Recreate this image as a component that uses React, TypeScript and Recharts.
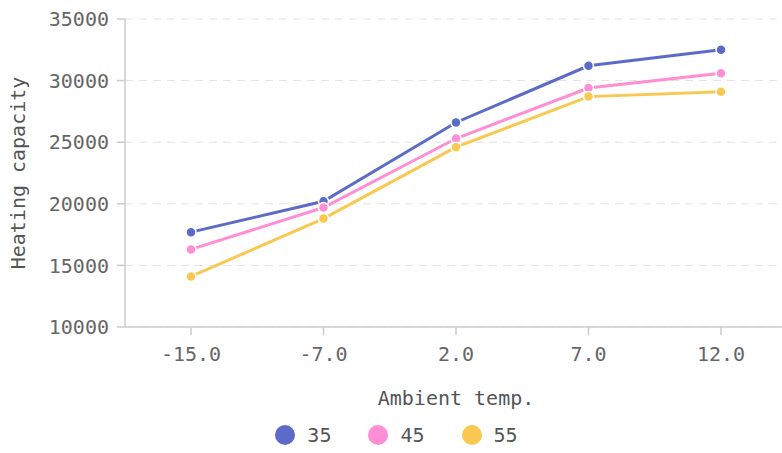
import { LineChart, Line, XAxis, YAxis, CartesianGrid, Legend } from "recharts";

const temps = ["-15.0", "-7.0", "2.0", "7.0", "12.0"];
const cap35 = [17700, 20200, 26600, 31200, 32500];
const cap45 = [16300, 19700, 25300, 29400, 30600];
const cap55 = [14100, 18800, 24600, 28700, 29100];
const yTicks = [10000, 15000, 20000, 25000, 30000, 35000];

const seriesList = [
  { key: "35", values: cap35, color: "#5c6bc8" },
  { key: "45", values: cap45, color: "#ff8ed4" },
  { key: "55", values: cap55, color: "#f9c850" },
];

const data = temps.map((t, i) => {
  const row: Record<string, string | number> = { temp: t };
  seriesList.forEach((s) => {
    row[s.key] = s.values[i];
  });
  return row;
});

const FONT = "'DejaVu Sans Mono', monospace";

function LegendContent() {
  return (
    <div style={{ display: "flex", justifyContent: "center", gap: 37, fontFamily: FONT, fontSize: 20, color: "#555", paddingLeft: 6 }}>
      {seriesList.map((s) => (
        <div key={s.key} style={{ display: "flex", alignItems: "center", gap: 12 }}>
          <span style={{ width: 20, height: 20, borderRadius: 10, background: s.color, display: "inline-block" }} />
          <span>{s.key}</span>
        </div>
      ))}
    </div>
  );
}

export default function App() {
  return (
    <div style={{ position: "fixed", left: 0, top: 0, width: 782, height: 453, overflow: "hidden", background: "#fff" }}>
      <LineChart width={787} height={453} data={data} margin={{ top: 19, right: 0, bottom: 0, left: 0 }}>
        <CartesianGrid vertical={false} stroke="#e3e3e3" strokeDasharray="8 6" />
        <XAxis
          dataKey="temp"
          height={96}
          padding={{ left: 66, right: 66 }}
          stroke="#ccc"
          strokeWidth={1.5}
          tickSize={8}
          tickMargin={12}
          tick={{ fill: "#666", fontSize: 20, fontFamily: FONT }}
          label={{ value: "Ambient temp.", position: "insideBottom", offset: 18, fill: "#555", fontSize: 20, fontFamily: FONT }}
        />
        <YAxis
          width={125}
          domain={[10000, 35000]}
          ticks={yTicks}
          stroke="#ccc"
          strokeWidth={1.5}
          tickSize={8}
          tickMargin={8}
          tick={{ fill: "#666", fontSize: 20, fontFamily: FONT }}
          label={{
            value: "Heating capacity",
            angle: -90,
            position: "insideLeft",
            offset: 18,
            fill: "#555",
            fontSize: 20,
            fontFamily: FONT,
            style: { textAnchor: "middle" },
          }}
        />
        <Legend verticalAlign="bottom" height={30} content={<LegendContent />} />
        {seriesList.map((s) => (
          <Line
            key={s.key}
            dataKey={s.key}
            type="linear"
            stroke={s.color}
            strokeWidth={3}
            dot={{ r: 5, fill: s.color, stroke: "#fff", strokeWidth: 1.5 }}
            activeDot={false}
            isAnimationActive={false}
          />
        ))}
      </LineChart>
    </div>
  );
}
